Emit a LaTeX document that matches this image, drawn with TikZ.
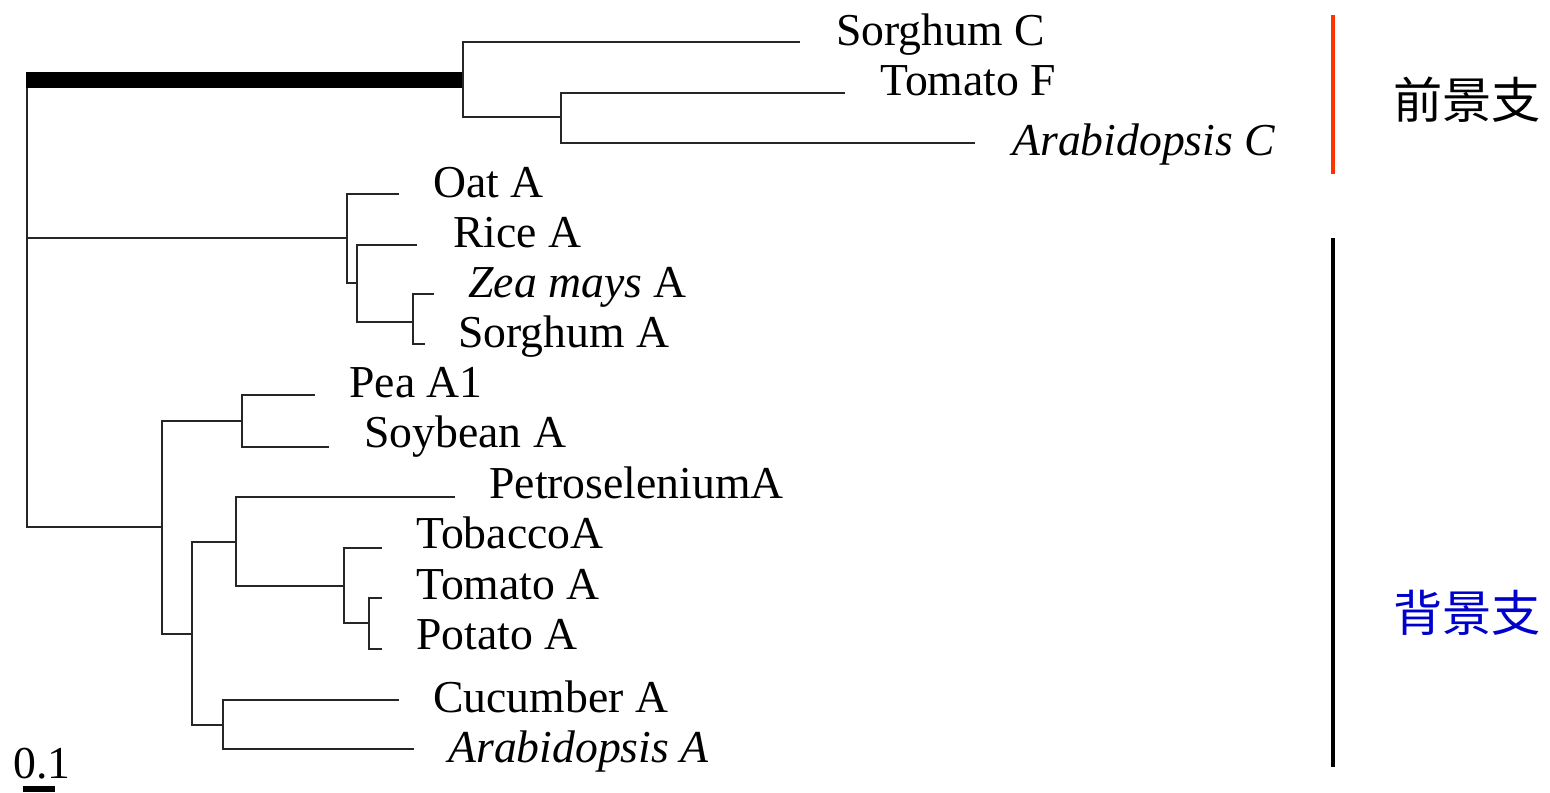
\documentclass[tikz,border=0pt]{standalone}
\usepackage{fontspec}
\setmainfont{Liberation Serif}
\newfontfamily\cjk{Noto Sans CJK SC}
\definecolor{fgred}{HTML}{FF3300}
\definecolor{bgblue}{HTML}{0000CC}
\begin{document}
\begin{tikzpicture}[x=0.02cm,y=-0.02cm,
  branch/.style={line width=1.45pt, black!85},
  stem/.style={line width=0.32cm, black},
  leaf/.style={anchor=base west, inner sep=0pt, font=\fontsize{26}{30}\selectfont},
  group/.style={anchor=center, inner sep=0pt, font=\cjk\fontsize{28}{32}\selectfont},
  sidebar/.style={line width=1.8pt}]
\useasboundingbox (0,0) rectangle (1550,792);
% internal nodes
\coordinate (root) at (27,238);
\coordinate (nA) at (463,80);
\coordinate (nB) at (561,117);
\coordinate (nC) at (347,238);
\coordinate (nD) at (357,283);
\coordinate (nE) at (413,322);
\coordinate (nF) at (162,527);
\coordinate (nG) at (242,421);
\coordinate (nH) at (192,634);
\coordinate (nI) at (236,542);
\coordinate (nJ) at (344,586);
\coordinate (nK) at (369,623);
\coordinate (nL) at (223,725);
% leaf tips
\coordinate (tSorC) at (800,42);
\coordinate (tTomF) at (845,93);
\coordinate (tAraC) at (975,143);
\coordinate (tOat) at (399,194);
\coordinate (tRice) at (417,245);
\coordinate (tZea) at (434,294);
\coordinate (tSorA) at (425,344);
\coordinate (tPea) at (315,395);
\coordinate (tSoy) at (329,447);
\coordinate (tPet) at (455,497);
\coordinate (tTob) at (382,548);
\coordinate (tTomA) at (382,598);
\coordinate (tPot) at (382,649);
\coordinate (tCuc) at (399,700);
\coordinate (tAraA) at (414,749);
% root
\draw[branch] (root) -- ([yshift=2pt]root |- nA);
\draw[stem] ([xshift=-0.7pt]root |- nA) -- (nA);
\draw[branch] (root) -- (nC);
\draw[branch] (root) |- (nF);
% foreground clade
\draw[branch] (nA) |- (tSorC);
\draw[branch] (nA) |- (nB);
\draw[branch] (nB) |- (tTomF);
\draw[branch] (nB) |- (tAraC);
% monocots
\draw[branch] (nC) |- (tOat);
\draw[branch] (nC) |- (nD);
\draw[branch] (nD) |- (tRice);
\draw[branch] (nD) |- (nE);
\draw[branch] (nE) |- (tZea);
\draw[branch] (nE) |- (tSorA);
% dicots
\draw[branch] (nF) |- (nG);
\draw[branch] (nG) |- (tPea);
\draw[branch] (nG) |- (tSoy);
\draw[branch] (nF) |- (nH);
\draw[branch] (nH) |- (nI);
\draw[branch] (nI) |- (tPet);
\draw[branch] (nI) |- (nJ);
\draw[branch] (nJ) |- (tTob);
\draw[branch] (nJ) |- (nK);
\draw[branch] (nK) |- (tTomA);
\draw[branch] (nK) |- (tPot);
\draw[branch] (nH) |- (nL);
\draw[branch] (nL) |- (tCuc);
\draw[branch] (nL) |- (tAraA);
% labels
\node[leaf] (lSorC) at (836,45) {Sorghum C};
\node[leaf] (lTomF) at (880,95) {Tomato F};
\node[leaf] (lAraC) at (1012,155) {\itshape Arabidopsis C};
\node[leaf] (lOat) at (433,197) {Oat A};
\node[leaf] (lRice) at (453,247) {Rice A};
\node[leaf] (lZea) at (468,297) {\itshape Zea mays\upshape\ A};
\node[leaf] (lSorA) at (458,347) {Sorghum A};
\node[leaf] (lPea) at (349,397) {Pea A1};
\node[leaf] (lSoy) at (364,447) {Soybean A};
\node[leaf] (lPet) at (489,498) {PetroseleniumA};
\node[leaf] (lTob) at (416,548) {TobaccoA};
\node[leaf] (lTomA) at (416,599) {Tomato A};
\node[leaf] (lPot) at (416,649) {Potato A};
\node[leaf] (lCuc) at (433,712) {Cucumber A};
\node[leaf] (lAraA) at (448,762) {\itshape Arabidopsis A};
% scale bar
\node[leaf] (scale) at (13,778) {0.1};
\fill (23,786) rectangle (55,792);
% side bars and group labels
\coordinate (fgTop) at (1333,15);
\coordinate (fgBot) at (1333,174);
\coordinate (bgTop) at (1333,238);
\coordinate (bgBot) at (1333,767);
\draw[sidebar, fgred] (fgTop) -- (fgBot);
\draw[sidebar, black] (bgTop) -- (bgBot);
\node[group, black] (fg) at (1467,100) {前景支};
\node[group, bgblue] (bg) at (1467,613) {背景支};
\end{tikzpicture}
\end{document}
